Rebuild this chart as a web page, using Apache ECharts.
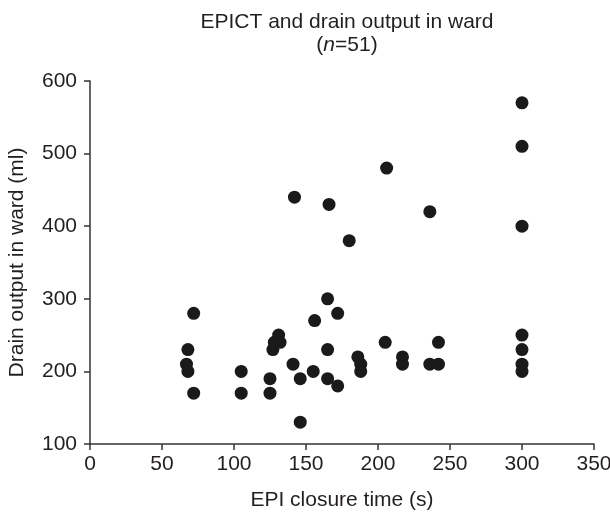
<!DOCTYPE html>
<html>
<head>
<meta charset="utf-8">
<script src="https://cdn.jsdelivr.net/npm/echarts@6/dist/echarts.min.js"></script>
<style>html,body{margin:0;padding:0;background:#fff}#c{width:610px;height:514px}</style>
</head>
<body>
<div id="c"></div>
<script>
var titleLine1 = 'EPICT and drain output in ward';
var sampleSize = 51;
var xAxisName = 'EPI closure time (s)';
var yAxisName = 'Drain output in ward (ml)';
var xTicks = [0, 50, 100, 150, 200, 250, 300, 350];
var yTicks = [100, 200, 300, 400, 500, 600];
// EPI closure time (s)
var closureTime = [72, 68, 67, 68, 72, 105, 105, 125, 125, 127, 128, 131, 132,
  141, 146, 146, 155, 156, 165, 165, 165, 172, 172, 186, 188, 188, 205, 217, 217,
  236, 242, 242, 300, 300, 300, 300, 142, 166, 180, 206, 236, 300, 300, 300];
// Drain output in ward (ml)
var drainOutput = [280, 230, 210, 200, 170, 200, 170, 190, 170, 230, 240, 250, 240,
  210, 190, 130, 200, 270, 300, 230, 190, 280, 180, 220, 210, 200, 240, 220, 210,
  210, 240, 210, 250, 230, 210, 200, 440, 430, 380, 480, 420, 570, 510, 400];

var points = closureTime.map(function (x, i) { return [x, drainOutput[i]]; });
var font = '"Liberation Sans", Arial, Helvetica, sans-serif';
var axisColor = '#333';
var textColor = '#231f20';
var fs = 21;

var chart = echarts.init(document.getElementById('c'));
chart.setOption({
  backgroundColor: '#fff',
  animation: false,
  title: {
    text: '{a|' + titleLine1 + '}\n{a|(}{i|n}{a|=' + sampleSize + ')}',
    left: 342,
    top: 6,
    textAlign: 'center',
    textStyle: {
      fontWeight: 'normal',
      rich: {
        a: { fontFamily: font, fontSize: fs, fontWeight: 'normal', color: textColor, lineHeight: 23, align: 'center' },
        i: { fontFamily: font, fontSize: fs, fontWeight: 'normal', color: textColor, lineHeight: 23, fontStyle: 'italic' }
      }
    }
  },
  grid: { left: 90, right: 16, top: 81, bottom: 70, outerBoundsMode: 'none', containLabel: false },
  xAxis: {
    type: 'value',
    min: xTicks[0], max: xTicks[xTicks.length - 1], interval: 50,
    name: xAxisName, nameLocation: 'middle', nameGap: 46,
    nameTextStyle: { fontFamily: font, fontSize: fs, color: textColor },
    axisLine: { lineStyle: { color: axisColor, width: 1.5 } },
    axisTick: { show: true, length: 6, lineStyle: { color: axisColor, width: 1.5 } },
    axisLabel: { fontFamily: font, fontSize: fs, color: textColor, margin: 10 },
    splitLine: { show: false }
  },
  yAxis: {
    type: 'value',
    min: yTicks[0], max: yTicks[yTicks.length - 1], interval: 100,
    name: yAxisName, nameLocation: 'middle', nameGap: 62, nameRotate: 90,
    nameTextStyle: { fontFamily: font, fontSize: fs, color: textColor },
    axisLine: { show: true, lineStyle: { color: axisColor, width: 1.5 } },
    axisTick: { show: true, length: 6, lineStyle: { color: axisColor, width: 1.5 } },
    axisLabel: { fontFamily: font, fontSize: fs, color: textColor, margin: 13 },
    splitLine: { show: false }
  },
  series: [{
    type: 'scatter',
    data: points,
    symbol: 'circle',
    symbolSize: 13,
    itemStyle: { color: '#1a1a1a', opacity: 1 }
  }]
});
</script>
</body>
</html>
